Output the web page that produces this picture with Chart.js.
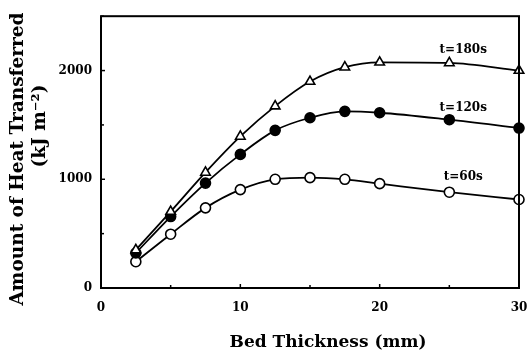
<!DOCTYPE html>
<html>
<head>
<meta charset="utf-8">
<script src="https://cdn.jsdelivr.net/npm/chart.js@4.4.0/dist/chart.umd.min.js"></script>
<style>
  html, body { margin: 0; padding: 0; background: #fff; }
  #wrap { width: 528px; height: 356px; }
</style>
</head>
<body>
<div id="wrap"><canvas id="heatChart" width="528" height="356"></canvas></div>
<script>
// values
const thickness = [2.5, 5, 7.5, 10, 12.5, 15, 17.5, 20, 25, 30]; // mm
const heat180 = [350, 703, 1063, 1394, 1673, 1899, 2031, 2076, 2070, 2000];
const heat120 = [322, 657, 965, 1229, 1450, 1566, 1625, 1612, 1548, 1471];
const heat60 = [242, 495, 737, 905, 1000, 1015, 1000, 960, 881, 814];

const seriesNames = ['t=180s', 't=120s', 't=60s'];
const nameX = [26, 26, 26];          // where the curve labels sit (data units)
const nameY = [2190, 1660, 1025];

const xTicks = [0, 5, 10, 15, 20, 25, 30];
const yTicks = [0, 500, 1000, 1500, 2000, 2500];
const xTitle = 'Bed Thickness (mm)';
const yTitle = ['Amount of Heat Transferred', '(kJ m\u207B\u00B2)'];

const FONT = '"DejaVu Serif", serif';

function toPoints(ys) {
    return thickness.map((x, i) => ({ x: x, y: ys[i] }));
}

// frame, inward ticks, curve labels and both axis titles
const framePlugin = {
    id: 'frame',
    afterDatasetsDraw(chart) {
        const ctx = chart.ctx;
        const a = chart.chartArea;
        const xs = chart.scales.x, ys = chart.scales.y;
        ctx.save();
        ctx.strokeStyle = '#000';
        ctx.lineWidth = 2;
        ctx.strokeRect(a.left, a.top, a.right - a.left, a.bottom - a.top);

        ctx.lineWidth = 1.5;
        xTicks.forEach(v => {
            const px = xs.getPixelForValue(v);
            const len = v % 10 === 0 ? 4 : 3;
            ctx.beginPath();
            ctx.moveTo(px, a.bottom);
            ctx.lineTo(px, a.bottom - len);
            ctx.stroke();
        });
        yTicks.forEach(v => {
            const py = ys.getPixelForValue(v);
            const len = v % 1000 === 0 ? 4 : 3;
            ctx.beginPath();
            ctx.moveTo(a.left, py);
            ctx.lineTo(a.left + len, py);
            ctx.stroke();
        });

        ctx.fillStyle = '#000';
        ctx.font = 'bold 12px ' + FONT;
        ctx.textAlign = 'center';
        ctx.textBaseline = 'middle';
        seriesNames.forEach((name, i) => {
            ctx.fillText(name, xs.getPixelForValue(nameX[i]), ys.getPixelForValue(nameY[i]));
        });

        // x title sits a bit right of centre in the original
        ctx.font = 'bold 17px ' + FONT;
        ctx.fillText(xTitle, (a.left + a.right) / 2 + 18, 343);

        // y title, two lines, not centred on each other
        ctx.font = 'bold 18.5px ' + FONT;
        ctx.translate(18, 159);
        ctx.rotate(-Math.PI / 2);
        ctx.fillText(yTitle[0], 0, 0);
        ctx.fillText(yTitle[1], 33, 22);
        ctx.restore();
    }
};

const ctx = document.getElementById('heatChart').getContext('2d');
const chart = new Chart(ctx, {
    type: 'line',
    data: {
        datasets: [
            {
                label: seriesNames[0],
                data: toPoints(heat180),
                pointStyle: 'triangle',
                pointBackgroundColor: '#fff',
                pointRadius: 5.5
            },
            {
                label: seriesNames[1],
                data: toPoints(heat120),
                pointStyle: 'circle',
                pointBackgroundColor: '#000',
                pointRadius: 5
            },
            {
                label: seriesNames[2],
                data: toPoints(heat60),
                pointStyle: 'circle',
                pointBackgroundColor: '#fff',
                pointRadius: 5
            }
        ].map(ds => Object.assign(ds, {
            borderColor: '#000',
            borderWidth: 1.8,
            pointBorderColor: '#000',
            pointBorderWidth: 1.6,
            cubicInterpolationMode: 'monotone',
            fill: false,
            clip: false
        }))
    },
    options: {
        responsive: false,
        animation: false,
        layout: { padding: { top: 15, right: 9, left: 0, bottom: 0 } },
        plugins: {
            legend: { display: false },
            tooltip: { enabled: false }
        },
        scales: {
            x: {
                type: 'linear',
                min: 0,
                max: 30,
                grid: { display: false, drawTicks: false, tickLength: 0 },
                border: { display: false },
                ticks: {
                    stepSize: 10,
                    padding: 13,
                    color: '#000',
                    font: { family: FONT, size: 12, weight: 'bold' }
                },
                afterFit(scale) {
                    scale.height = 68;
                    // let the "30" run past the frame like in the original
                    scale.paddingLeft = 0;
                    scale.paddingRight = 0;
                }
            },
            y: {
                min: 0,
                max: 2500,
                grid: { display: false, drawTicks: false, tickLength: 0 },
                border: { display: false },
                ticks: {
                    stepSize: 500,
                    padding: 9,
                    color: '#000',
                    font: { family: FONT, size: 12, weight: 'bold' },
                    callback: v => (v % 1000 === 0 ? v : '')
                },
                afterFit(scale) { scale.width = 101; }
            }
        }
    },
    plugins: [framePlugin]
});
</script>
</body>
</html>
